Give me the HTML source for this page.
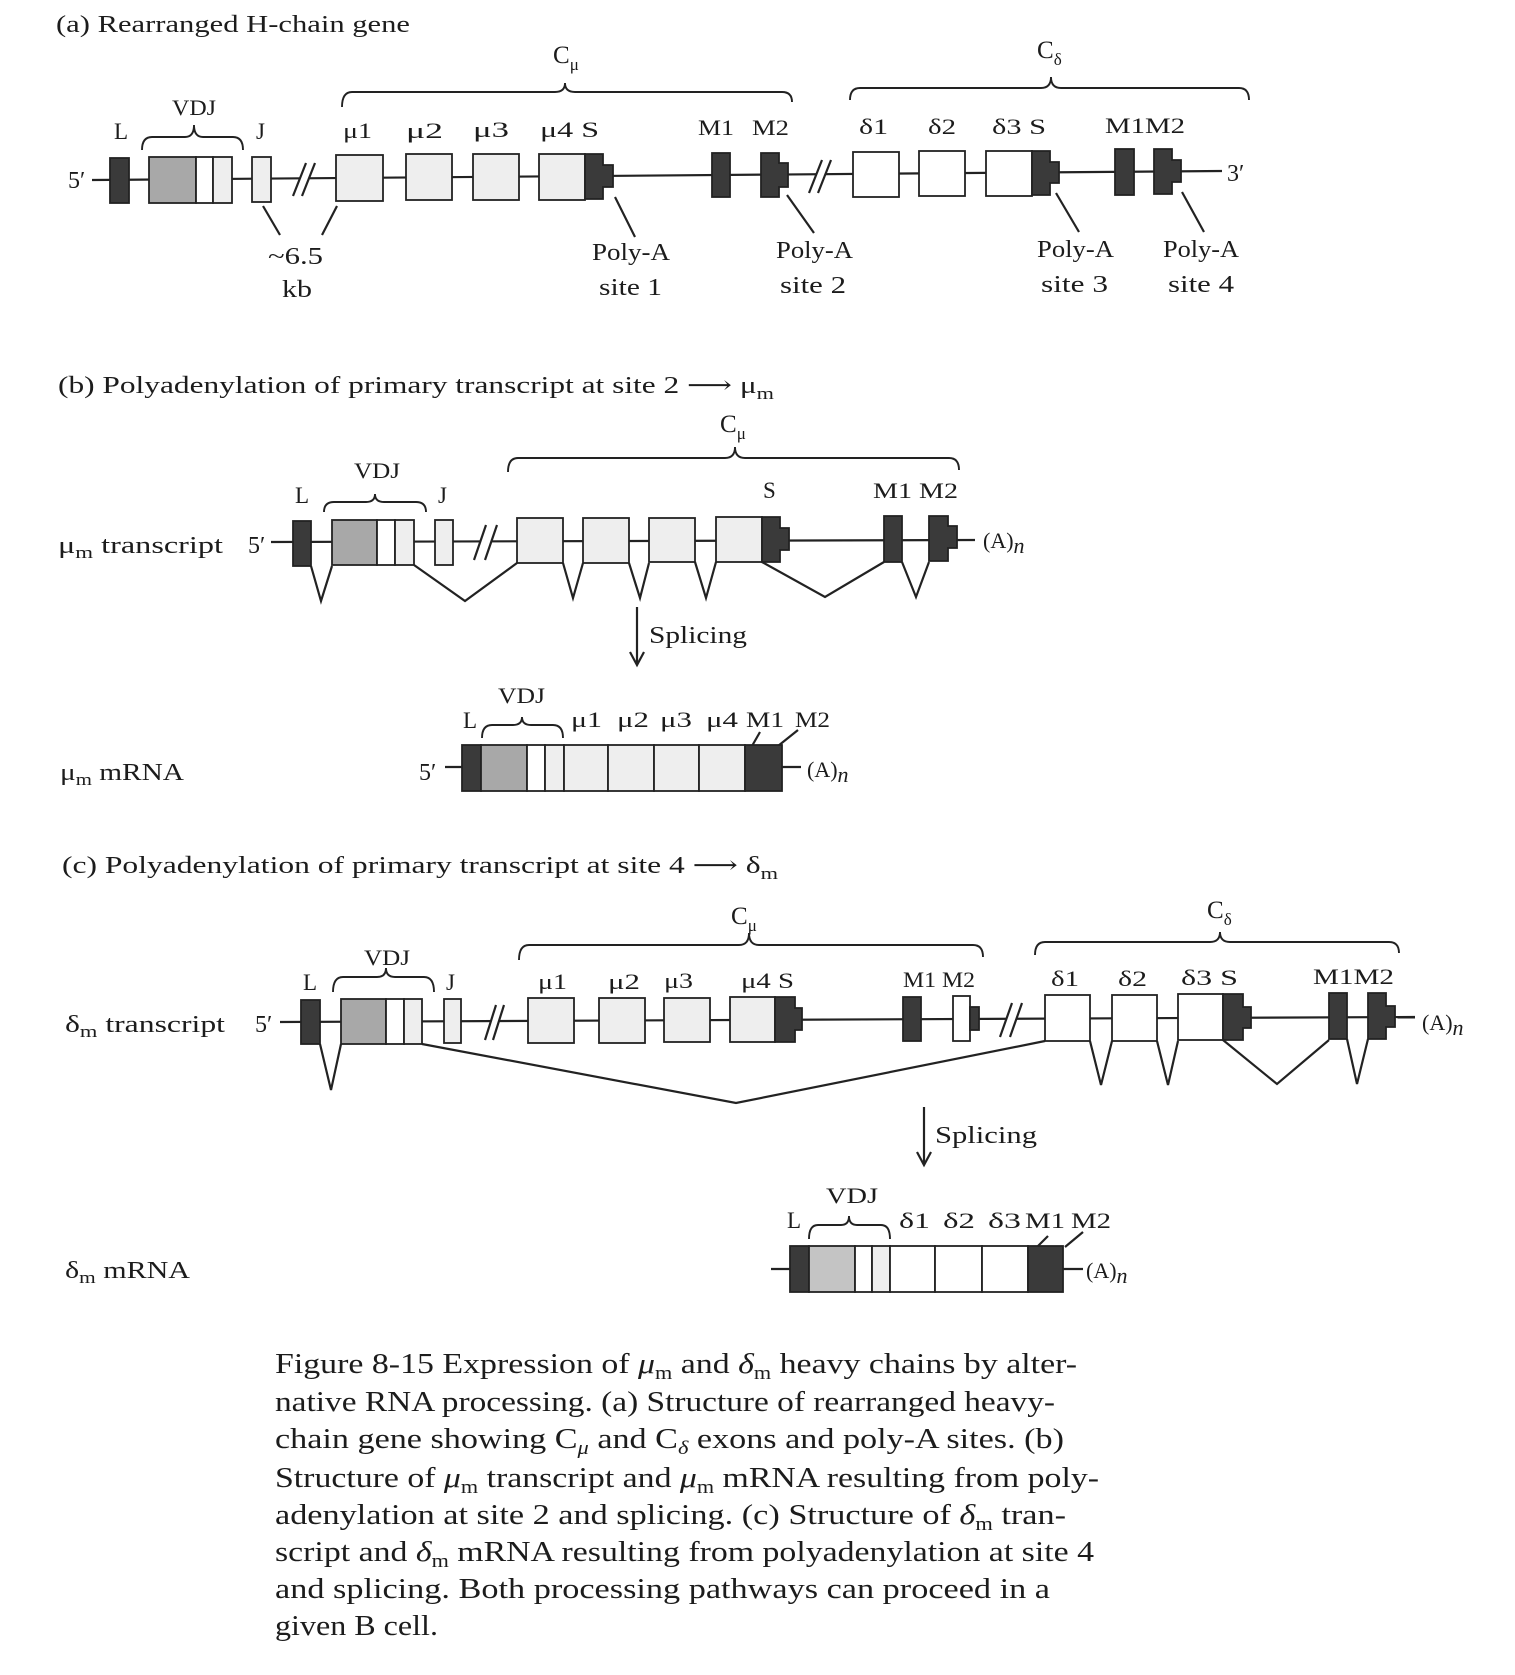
<!DOCTYPE html>
<html><head><meta charset="utf-8"><style>
html,body{margin:0;padding:0;background:#fff}
svg{display:block}
text{font-family:"Liberation Serif","DejaVu Serif",serif;fill:#1c1c1c}
.ln{stroke:#222;stroke-width:2.2;fill:none}
.bx{stroke:#222;stroke-width:1.8}
.dk{fill:#3a3a3a}
.md{fill:#a8a8a8}
.lt{fill:#eeeeee}
.wt{fill:#ffffff}
.br{stroke:#222;stroke-width:1.9;fill:none}
</style></head><body>
<svg width="1515" height="1675" viewBox="0 0 1515 1675" xmlns="http://www.w3.org/2000/svg">
<rect width="1515" height="1675" fill="#fff"/>

<!-- ===== (a) ===== -->
<text x="56" y="32" font-size="24" textLength="354" lengthAdjust="spacingAndGlyphs">(a) Rearranged H-chain gene</text>
<text x="553" y="63" font-size="25">C<tspan font-size="17" dy="7">μ</tspan></text>
<path class="br" d="M342,107 Q342,92 352,92 L555,92 Q565,92 565,83 Q565,92 575,92 L782,92 Q792,92 792,102"/>
<text x="1037" y="58" font-size="25">C<tspan font-size="17" dy="7">δ</tspan></text>
<path class="br" d="M850,100 Q850,88 860,88 L1041,88 Q1051,88 1051,77 Q1051,88 1061,88 L1239,88 Q1249,88 1249,100"/>
<text x="172" y="115" font-size="22" textLength="44" lengthAdjust="spacingAndGlyphs">VDJ</text>
<path class="br" d="M142,150 Q142,137 152,137 L185,137 Q194,137 194,125 Q194,137 203,137 L233,137 Q243,137 243,150"/>
<text x="114" y="139" font-size="23">L</text>
<text x="256" y="139" font-size="23">J</text>
<text x="343" y="138" font-size="22" textLength="29" lengthAdjust="spacingAndGlyphs">μ1</text>
<text x="406" y="138" font-size="22" textLength="37" lengthAdjust="spacingAndGlyphs">μ2</text>
<text x="473" y="137" font-size="22" textLength="36" lengthAdjust="spacingAndGlyphs">μ3</text>
<text x="540" y="137" font-size="22" textLength="59" lengthAdjust="spacingAndGlyphs">μ4 S</text>
<text x="698" y="135" font-size="22" textLength="36" lengthAdjust="spacingAndGlyphs">M1</text>
<text x="752" y="135" font-size="22" textLength="37" lengthAdjust="spacingAndGlyphs">M2</text>
<text x="859" y="134" font-size="22" textLength="29" lengthAdjust="spacingAndGlyphs">δ1</text>
<text x="928" y="134" font-size="22" textLength="28" lengthAdjust="spacingAndGlyphs">δ2</text>
<text x="992" y="134" font-size="22" textLength="54" lengthAdjust="spacingAndGlyphs">δ3 S</text>
<text x="1105" y="133" font-size="22" textLength="80" lengthAdjust="spacingAndGlyphs">M1M2</text>

<text x="68" y="188" font-size="24">5′</text>
<line class="ln" x1="92" y1="180" x2="1222" y2="171"/>
<text x="1227" y="181" font-size="24">3′</text>
<polygon points="293,196 302,196 315,163 306,163" fill="#fff"/>
<line class="ln" x1="293" y1="196" x2="306" y2="163"/><line class="ln" x1="302" y1="196" x2="315" y2="163"/>
<polygon points="809,193 818,193 831,160 822,160" fill="#fff"/>
<line class="ln" x1="809" y1="193" x2="822" y2="160"/><line class="ln" x1="818" y1="193" x2="831" y2="160"/>
<rect class="bx dk" x="110" y="158" width="19" height="45"/>
<rect class="bx md" x="149" y="157" width="47" height="46"/>
<rect class="bx wt" x="196" y="157" width="17" height="46"/>
<rect class="bx lt" x="213" y="157" width="19" height="46"/>
<rect class="bx lt" x="252" y="157" width="19" height="45"/>
<rect class="bx lt" x="336" y="155" width="47" height="46"/>
<rect class="bx lt" x="406" y="154" width="46" height="46"/>
<rect class="bx lt" x="473" y="154" width="46" height="46"/>
<rect class="bx lt" x="539" y="154" width="46" height="46"/>
<path class="bx dk" d="M585,154 H603 V165 H613 V187 H603 V199 H585 Z"/>
<rect class="bx dk" x="712" y="153" width="18" height="44"/>
<path class="bx dk" d="M761,153 H779 V163 H788 V187 H779 V197 H761 Z"/>
<rect class="bx wt" x="853" y="152" width="46" height="45"/>
<rect class="bx wt" x="919" y="151" width="46" height="45"/>
<rect class="bx wt" x="986" y="151" width="46" height="45"/>
<path class="bx dk" d="M1032,151 H1050 V162 H1059 V183 H1050 V195 H1032 Z"/>
<rect class="bx dk" x="1115" y="149" width="19" height="46"/>
<path class="bx dk" d="M1154,149 H1172 V160 H1181 V182 H1172 V194 H1154 Z"/>
<line class="ln" x1="263" y1="206" x2="280" y2="235"/>
<line class="ln" x1="337" y1="206" x2="322" y2="235"/>
<line class="ln" x1="615" y1="197" x2="635" y2="237"/>
<line class="ln" x1="787" y1="195" x2="814" y2="233"/>
<line class="ln" x1="1056" y1="193" x2="1079" y2="232"/>
<line class="ln" x1="1182" y1="192" x2="1204" y2="232"/>
<text x="268" y="264" font-size="24" textLength="55" lengthAdjust="spacingAndGlyphs">~6.5</text>
<text x="282" y="297" font-size="24" textLength="30" lengthAdjust="spacingAndGlyphs">kb</text>
<text x="592" y="260" font-size="24" textLength="78" lengthAdjust="spacingAndGlyphs">Poly-A</text>
<text x="599" y="295" font-size="24" textLength="63" lengthAdjust="spacingAndGlyphs">site 1</text>
<text x="776" y="258" font-size="24" textLength="77" lengthAdjust="spacingAndGlyphs">Poly-A</text>
<text x="780" y="293" font-size="24" textLength="66" lengthAdjust="spacingAndGlyphs">site 2</text>
<text x="1037" y="257" font-size="24" textLength="77" lengthAdjust="spacingAndGlyphs">Poly-A</text>
<text x="1041" y="292" font-size="24" textLength="67" lengthAdjust="spacingAndGlyphs">site 3</text>
<text x="1163" y="257" font-size="24" textLength="76" lengthAdjust="spacingAndGlyphs">Poly-A</text>
<text x="1168" y="292" font-size="24" textLength="66" lengthAdjust="spacingAndGlyphs">site 4</text>

<!-- ===== (b) ===== -->
<text x="58" y="393" font-size="24" textLength="716" lengthAdjust="spacingAndGlyphs">(b) Polyadenylation of primary transcript at site 2 ⟶ μ<tspan font-size="17" dy="6">m</tspan></text>
<text x="720" y="432" font-size="25">C<tspan font-size="17" dy="7">μ</tspan></text>
<path class="br" d="M508,472 Q508,458 518,458 L725,458 Q735,458 735,447 Q735,458 745,458 L949,458 Q959,458 959,470"/>
<text x="354" y="478" font-size="22" textLength="46" lengthAdjust="spacingAndGlyphs">VDJ</text>
<path class="br" d="M324,512 Q324,502 334,502 L366,502 Q375,502 375,494 Q375,502 384,502 L416,502 Q426,502 426,512"/>
<text x="295" y="503" font-size="23">L</text>
<text x="438" y="503" font-size="23">J</text>
<text x="763" y="498" font-size="23">S</text>
<text x="873" y="498" font-size="22" textLength="85" lengthAdjust="spacingAndGlyphs">M1 M2</text>
<text x="58" y="553" font-size="24" textLength="165" lengthAdjust="spacingAndGlyphs">μ<tspan font-size="17" dy="5">m</tspan><tspan dy="-5"> transcript</tspan></text>
<text x="248" y="553" font-size="24">5′</text>
<line class="ln" x1="271" y1="542" x2="975" y2="540"/>
<text x="983" y="548" font-size="22">(A)<tspan font-style="italic" dy="5">n</tspan></text>
<polygon points="474,560 485,560 497,525 486,525" fill="#fff"/>
<line class="ln" x1="474" y1="560" x2="486" y2="525"/><line class="ln" x1="485" y1="560" x2="497" y2="525"/>
<rect class="bx dk" x="293" y="521" width="18" height="45"/>
<rect class="bx md" x="332" y="520" width="45" height="45"/>
<rect class="bx wt" x="377" y="520" width="18" height="45"/>
<rect class="bx lt" x="395" y="520" width="19" height="45"/>
<rect class="bx lt" x="435" y="520" width="18" height="45"/>
<rect class="bx lt" x="517" y="518" width="46" height="45"/>
<rect class="bx lt" x="583" y="518" width="46" height="45"/>
<rect class="bx lt" x="649" y="518" width="46" height="44"/>
<rect class="bx lt" x="716" y="517" width="46" height="45"/>
<path class="bx dk" d="M762,517 H780 V528 H789 V550 H780 V562 H762 Z"/>
<rect class="bx dk" x="884" y="516" width="18" height="46"/>
<path class="bx dk" d="M929,516 H948 V526 H957 V548 H948 V561 H929 Z"/>
<polyline class="ln" points="311,566 321,601 332,566"/>
<polyline class="ln" points="414,565 465,601 517,563"/>
<polyline class="ln" points="563,563 573,598 583,563"/>
<polyline class="ln" points="629,563 640,598 649,563"/>
<polyline class="ln" points="695,562 706,598 716,562"/>
<polyline class="ln" points="762,562 825,597 884,562"/>
<polyline class="ln" points="902,562 916,597 929,562"/>
<line class="ln" x1="637" y1="607" x2="637" y2="664"/>
<polyline class="ln" points="630,652 637,665 644,652"/>
<text x="649" y="643" font-size="24" textLength="98" lengthAdjust="spacingAndGlyphs">Splicing</text>

<!-- mRNA (b) -->
<text x="498" y="703" font-size="22" textLength="47" lengthAdjust="spacingAndGlyphs">VDJ</text>
<path class="br" d="M482,738 Q482,725 492,725 L513,725 Q522,725 522,717 Q522,725 531,725 L553,725 Q563,725 563,738"/>
<text x="463" y="728" font-size="23">L</text>
<text x="571" y="727" font-size="22" textLength="31" lengthAdjust="spacingAndGlyphs">μ1</text>
<text x="617" y="727" font-size="22" textLength="32" lengthAdjust="spacingAndGlyphs">μ2</text>
<text x="660" y="727" font-size="22" textLength="32" lengthAdjust="spacingAndGlyphs">μ3</text>
<text x="706" y="727" font-size="22" textLength="32" lengthAdjust="spacingAndGlyphs">μ4</text>
<text x="746" y="727" font-size="22" textLength="38" lengthAdjust="spacingAndGlyphs">M1</text>
<text x="795" y="727" font-size="22" textLength="35" lengthAdjust="spacingAndGlyphs">M2</text>
<line class="ln" x1="760" y1="732" x2="752" y2="746"/>
<line class="ln" x1="798" y1="730" x2="778" y2="746"/>
<rect class="bx dk" x="462" y="745" width="19" height="46"/>
<rect class="bx md" x="481" y="745" width="46" height="46"/>
<rect class="bx wt" x="527" y="745" width="18" height="46"/>
<rect class="bx lt" x="545" y="745" width="19" height="46"/>
<rect class="bx lt" x="564" y="745" width="44" height="46"/>
<rect class="bx lt" x="608" y="745" width="46" height="46"/>
<rect class="bx lt" x="654" y="745" width="45" height="46"/>
<rect class="bx lt" x="699" y="745" width="46" height="46"/>
<rect class="bx dk" x="745" y="745" width="37" height="46"/>
<text x="419" y="780" font-size="24">5′</text>
<line class="ln" x1="445" y1="767" x2="462" y2="767"/>
<line class="ln" x1="782" y1="767" x2="801" y2="767"/>
<text x="807" y="777" font-size="22">(A)<tspan font-style="italic" dy="5">n</tspan></text>
<text x="60" y="780" font-size="24" textLength="124" lengthAdjust="spacingAndGlyphs">μ<tspan font-size="17" dy="5">m</tspan><tspan dy="-5"> mRNA</tspan></text>

<!-- ===== (c) ===== -->
<text x="62" y="873" font-size="24" textLength="716" lengthAdjust="spacingAndGlyphs">(c) Polyadenylation of primary transcript at site 4 ⟶ δ<tspan font-size="17" dy="6">m</tspan></text>
<text x="731" y="924" font-size="25">C<tspan font-size="17" dy="7">μ</tspan></text>
<path class="br" d="M519,960 Q519,945 529,945 L739,945 Q749,945 749,933 Q749,945 759,945 L973,945 Q983,945 983,957"/>
<text x="1207" y="918" font-size="25">C<tspan font-size="17" dy="7">δ</tspan></text>
<path class="br" d="M1035,955 Q1035,942 1045,942 L1210,942 Q1220,942 1220,932 Q1220,942 1230,942 L1389,942 Q1399,942 1399,953"/>
<text x="364" y="965" font-size="22" textLength="46" lengthAdjust="spacingAndGlyphs">VDJ</text>
<path class="br" d="M333,992 Q333,977 343,977 L377,977 Q386,977 386,968 Q386,977 395,977 L424,977 Q434,977 434,992"/>
<text x="303" y="990" font-size="23">L</text>
<text x="446" y="990" font-size="23">J</text>
<text x="538" y="989" font-size="22" textLength="29" lengthAdjust="spacingAndGlyphs">μ1</text>
<text x="608" y="989" font-size="22" textLength="32" lengthAdjust="spacingAndGlyphs">μ2</text>
<text x="664" y="988" font-size="22" textLength="29" lengthAdjust="spacingAndGlyphs">μ3</text>
<text x="741" y="988" font-size="22" textLength="53" lengthAdjust="spacingAndGlyphs">μ4 S</text>
<text x="903" y="987" font-size="22" textLength="72" lengthAdjust="spacingAndGlyphs">M1 M2</text>
<text x="1051" y="986" font-size="22" textLength="28" lengthAdjust="spacingAndGlyphs">δ1</text>
<text x="1118" y="986" font-size="22" textLength="29" lengthAdjust="spacingAndGlyphs">δ2</text>
<text x="1181" y="985" font-size="22" textLength="57" lengthAdjust="spacingAndGlyphs">δ3 S</text>
<text x="1313" y="984" font-size="22" textLength="81" lengthAdjust="spacingAndGlyphs">M1M2</text>
<text x="65" y="1032" font-size="24" textLength="160" lengthAdjust="spacingAndGlyphs">δ<tspan font-size="17" dy="5">m</tspan><tspan dy="-5"> transcript</tspan></text>
<text x="255" y="1032" font-size="24">5′</text>
<line class="ln" x1="280" y1="1022" x2="1415" y2="1017"/>
<text x="1422" y="1030" font-size="22">(A)<tspan font-style="italic" dy="5">n</tspan></text>
<polygon points="485,1040 493,1040 504,1005 496,1005" fill="#fff"/>
<line class="ln" x1="485" y1="1040" x2="496" y2="1005"/><line class="ln" x1="493" y1="1040" x2="504" y2="1005"/>
<polygon points="1000,1037 1010,1037 1022,1003 1012,1003" fill="#fff"/>
<line class="ln" x1="1000" y1="1037" x2="1012" y2="1003"/><line class="ln" x1="1010" y1="1037" x2="1022" y2="1003"/>
<rect class="bx dk" x="301" y="1000" width="19" height="44"/>
<rect class="bx md" x="341" y="999" width="45" height="45"/>
<rect class="bx wt" x="386" y="999" width="18" height="45"/>
<rect class="bx lt" x="404" y="999" width="18" height="45"/>
<rect class="bx lt" x="444" y="999" width="17" height="44"/>
<rect class="bx lt" x="528" y="998" width="46" height="45"/>
<rect class="bx lt" x="599" y="998" width="46" height="45"/>
<rect class="bx lt" x="664" y="998" width="46" height="44"/>
<rect class="bx lt" x="730" y="997" width="45" height="45"/>
<path class="bx dk" d="M775,997 H795 V1008 H802 V1030 H795 V1042 H775 Z"/>
<rect class="bx dk" x="903" y="997" width="18" height="44"/>
<rect class="bx wt" x="953" y="996" width="17" height="45"/>
<rect class="bx dk" x="970" y="1007" width="9" height="23"/>
<rect class="bx wt" x="1045" y="995" width="45" height="46"/>
<rect class="bx wt" x="1112" y="995" width="45" height="46"/>
<rect class="bx wt" x="1178" y="994" width="45" height="46"/>
<path class="bx dk" d="M1223,994 H1243 V1007 H1251 V1028 H1243 V1040 H1223 Z"/>
<rect class="bx dk" x="1329" y="993" width="18" height="46"/>
<path class="bx dk" d="M1368,993 H1386 V1006 H1395 V1027 H1386 V1039 H1368 Z"/>
<polyline class="ln" points="320,1044 331,1090 341,1044"/>
<polyline class="ln" points="422,1044 736,1103 1045,1041"/>
<polyline class="ln" points="1090,1041 1101,1085 1112,1041"/>
<polyline class="ln" points="1157,1041 1168,1085 1178,1041"/>
<polyline class="ln" points="1223,1040 1277,1084 1329,1040"/>
<polyline class="ln" points="1347,1039 1357,1084 1368,1039"/>
<line class="ln" x1="924" y1="1107" x2="924" y2="1164"/>
<polyline class="ln" points="917,1152 924,1165 931,1152"/>
<text x="935" y="1143" font-size="24" textLength="102" lengthAdjust="spacingAndGlyphs">Splicing</text>

<!-- mRNA (c) -->
<text x="826" y="1203" font-size="22" textLength="52" lengthAdjust="spacingAndGlyphs">VDJ</text>
<path class="br" d="M809,1239 Q809,1225 818,1225 L841,1225 Q849,1225 849,1216 Q849,1225 857,1225 L881,1225 Q890,1225 890,1239"/>
<text x="787" y="1228" font-size="23">L</text>
<text x="899" y="1228" font-size="22" textLength="31" lengthAdjust="spacingAndGlyphs">δ1</text>
<text x="943" y="1228" font-size="22" textLength="32" lengthAdjust="spacingAndGlyphs">δ2</text>
<text x="988" y="1228" font-size="22" textLength="33" lengthAdjust="spacingAndGlyphs">δ3</text>
<text x="1025" y="1228" font-size="22" textLength="40" lengthAdjust="spacingAndGlyphs">M1</text>
<text x="1071" y="1228" font-size="22" textLength="40" lengthAdjust="spacingAndGlyphs">M2</text>
<line class="ln" x1="1048" y1="1236" x2="1037" y2="1247"/>
<line class="ln" x1="1083" y1="1232" x2="1065" y2="1247"/>
<rect class="bx dk" x="790" y="1246" width="19" height="46"/>
<rect class="bx" fill="#c4c4c4" x="809" y="1246" width="46" height="46"/>
<rect class="bx wt" x="855" y="1246" width="17" height="46"/>
<rect class="bx lt" x="872" y="1246" width="18" height="46"/>
<rect class="bx wt" x="890" y="1246" width="45" height="46"/>
<rect class="bx wt" x="935" y="1246" width="47" height="46"/>
<rect class="bx wt" x="982" y="1246" width="46" height="46"/>
<rect class="bx dk" x="1028" y="1246" width="35" height="46"/>
<line class="ln" x1="771" y1="1269" x2="790" y2="1269"/>
<line class="ln" x1="1063" y1="1269" x2="1083" y2="1269"/>
<text x="1086" y="1278" font-size="22">(A)<tspan font-style="italic" dy="5">n</tspan></text>
<text x="65" y="1278" font-size="24" textLength="125" lengthAdjust="spacingAndGlyphs">δ<tspan font-size="17" dy="5">m</tspan><tspan dy="-5"> mRNA</tspan></text>

<!-- ===== caption ===== -->
<g font-size="29">
<text x="275" y="1373" textLength="802" lengthAdjust="spacingAndGlyphs">Figure 8-15   Expression of <tspan font-style="italic">μ</tspan><tspan font-size="19" dy="6">m</tspan><tspan dy="-6"> and </tspan><tspan font-style="italic">δ</tspan><tspan font-size="19" dy="6">m</tspan><tspan dy="-6"> heavy chains by alter-</tspan></text>
<text x="275" y="1411" textLength="780" lengthAdjust="spacingAndGlyphs">native RNA processing. (a) Structure of rearranged heavy-</text>
<text x="275" y="1448" textLength="789" lengthAdjust="spacingAndGlyphs">chain gene showing C<tspan font-size="19" font-style="italic" dy="6">μ</tspan><tspan dy="-6"> and C</tspan><tspan font-size="19" font-style="italic" dy="6">δ</tspan><tspan dy="-6"> exons and poly-A sites. (b)</tspan></text>
<text x="275" y="1487" textLength="824" lengthAdjust="spacingAndGlyphs">Structure of <tspan font-style="italic">μ</tspan><tspan font-size="19" dy="6">m</tspan><tspan dy="-6"> transcript and </tspan><tspan font-style="italic">μ</tspan><tspan font-size="19" dy="6">m</tspan><tspan dy="-6"> mRNA resulting from poly-</tspan></text>
<text x="275" y="1524" textLength="791" lengthAdjust="spacingAndGlyphs">adenylation at site 2 and splicing. (c) Structure of <tspan font-style="italic">δ</tspan><tspan font-size="19" dy="6">m</tspan><tspan dy="-6"> tran-</tspan></text>
<text x="275" y="1561" textLength="819" lengthAdjust="spacingAndGlyphs">script and <tspan font-style="italic">δ</tspan><tspan font-size="19" dy="6">m</tspan><tspan dy="-6"> mRNA resulting from polyadenylation at site 4</tspan></text>
<text x="275" y="1598" textLength="775" lengthAdjust="spacingAndGlyphs">and splicing. Both processing pathways can proceed in a</text>
<text x="275" y="1635" textLength="163" lengthAdjust="spacingAndGlyphs">given B cell.</text>
</g>
</svg>
</body></html>
